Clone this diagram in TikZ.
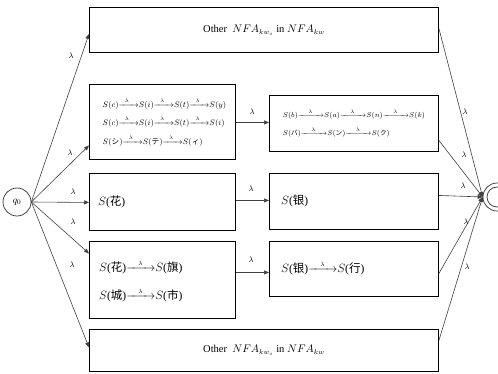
\documentclass[tikz,border=0pt]{standalone}
\usepackage{amsmath}
\usepackage{fontspec}
\setmainfont{Liberation Serif}
\newfontfamily\cjk{Noto Sans CJK SC}
\usetikzlibrary{arrows.meta,calc}
\newcommand\cj[1]{{\cjk #1}}
\newcommand\smarr{$\xrightarrow{\;\;\scriptscriptstyle\lambda\;\;\;}$}
\newcommand\bigarr{$\xrightarrow{\;\;\;\;\scriptscriptstyle\lambda\;\;\;\;}$}
\begin{document}
\begin{tikzpicture}[x=1pt,y=-1pt,
  box/.style={draw, line width=0.9pt, inner sep=0pt, anchor=north west},
  conn/.style={draw=black!75, line width=0.6pt},
  arr/.style={conn, -{Triangle[length=5pt,width=4pt]}},
  lab/.style={font=\fontsize{8}{9}\selectfont, inner sep=0pt},
  other/.style={font=\fontsize{10.5}{12}\selectfont},
  tiny/.style={font=\fontsize{7.7}{18.5}\selectfont, align=left, inner sep=0pt},
  mid/.style={font=\fontsize{11.5}{28}\selectfont, align=left, inner sep=0pt, anchor=west}]
\useasboundingbox (0,0) rectangle (498,374);
% states
\node[draw=black!80, circle, line width=0.7pt, minimum size=28pt, inner sep=0pt] (q0) at (17,202) {$q_0$};
\node[draw=black!80, circle, line width=0.7pt, minimum size=28pt, inner sep=0pt] (fin) at (497,197) {};
\node[draw=black!80, circle, line width=0.7pt, minimum size=20pt, inner sep=0pt] (finin) at (fin) {};
% boxes
\node[box, minimum width=349pt, minimum height=45pt] (b1) at (89,7) {};
\node[other] (t1) at (b1.center) {Other\ \ $NFA_{kw_s}$ in $NFA_{kw}$};
\node[box, minimum width=146pt, minimum height=75pt] (b2) at (89,84) {};
\node[tiny] (t2) at ([xshift=2pt]b2.center) {$S(c)$\smarr$S(i)$\smarr$S(t)$\smarr$S(y)$\\
$S(c)$\smarr$S(i)$\smarr$S(t)$\smarr$S(i)$\\
$S($\cj{シ}$)$\smarr$S($\cj{テ}$)$\smarr$S($\cj{ィ}$)$};
\node[box, minimum width=169pt, minimum height=56pt] (b4) at (269,95) {};
\node[tiny, font=\fontsize{6.6}{18}\selectfont] (t4) at (b4.center) {$S(b)$\bigarr$S(a)$\bigarr$S(n)$\bigarr$S(k)$\\
$S($\cj{バ}$)$\bigarr$S($\cj{ン}$)$\bigarr$S($\cj{ク}$)$};
\node[box, minimum width=146pt, minimum height=57pt] (b3) at (89,173) {};
\node[mid] (t3) at (98,202) {$S$(\cj{花})};
\node[box, minimum width=169pt, minimum height=56pt] (b5) at (269,173) {};
\node[mid] (t5) at (281,201) {$S$(\cj{银})};
\node[box, minimum width=146pt, minimum height=77pt] (b6) at (89,241) {};
\node[mid] (t6) at (99,281) {$S$(\cj{花})\bigarr$S$(\cj{旗})\\$S$(\cj{城})\bigarr$S$(\cj{市})};
\node[box, minimum width=169pt, minimum height=55pt] (b7) at (269,241) {};
\node[mid] (t7) at (281,268) {$S$(\cj{银})\bigarr$S$(\cj{行})};
\node[box, minimum width=349pt, minimum height=42pt] (b8) at (89,329) {};
\node[other] (t8) at (b8.center) {Other\ \ $NFA_{kw_s}$ in $NFA_{kw}$};
% from q0
\coordinate (q0o) at (q0.east);
\draw[arr] (q0o) -- ([yshift=-4pt]b1.west);
\draw[arr] (q0o) -- ([yshift=-23.5pt]b2.west);
\draw[arr] (q0o) -- ([yshift=-0.5pt]b3.west);
\draw[arr] (q0o) -- ([yshift=26.5pt]b6.west);
\draw[arr] (q0o) -- ([yshift=3pt]b8.west);
\node[lab] (l1) at (71,56) {$\lambda$};
\node[lab] (l2) at (70,153) {$\lambda$};
\node[lab] (l3) at (73,192) {$\lambda$};
\node[lab] (l4) at (73,222) {$\lambda$};
\node[lab] (l5) at (72,265) {$\lambda$};
% middle
\draw[arr] ([yshift=-0.5pt]b2.east) -- ([yshift=1pt]b4.west);
\draw[arr] ([yshift=1.5pt]b3.east) -- ([yshift=1pt]b5.west);
\draw[arr] ([yshift=7.5pt]b6.east) -- ([yshift=-3.5pt]b7.west);
\node[lab] (m1) at (252,112) {$\lambda$};
\node[lab] (m2) at (251,189) {$\lambda$};
\node[lab] (m3) at (251,260) {$\lambda$};
% to final
\draw[arr] ([yshift=1.5pt]b1.east) -- (fin.west);
\draw[arr] ([yshift=-17pt]b4.east) -- (fin.west);
\draw[arr] ([yshift=6pt]b5.east) -- (fin.west);
\draw[arr] ([yshift=-4.5pt]b7.east) -- (fin.west);
\draw[arr] ([yshift=10pt]b8.east) -- (fin.west);
\node[lab] (r1) at (465,112) {$\lambda$};
\node[lab] (r2) at (464,155) {$\lambda$};
\node[lab] (r3) at (463,186) {$\lambda$};
\node[lab] (r4) at (466,222) {$\lambda$};
\node[lab] (r5) at (467,267) {$\lambda$};
\end{tikzpicture}
\end{document}
